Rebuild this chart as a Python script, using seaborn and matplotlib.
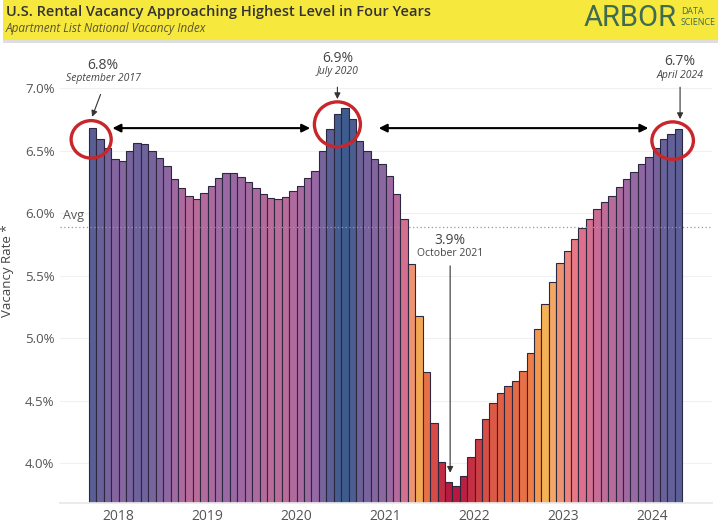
import numpy as np
import pandas as pd
import matplotlib
matplotlib.use("Agg")
import matplotlib.pyplot as plt
import seaborn as sns
from matplotlib.colors import LinearSegmentedColormap, Normalize
from matplotlib.patches import Ellipse, Rectangle

# monthly vacancy rate (%), September 2017 - April 2024
months = pd.date_range("2017-09-01", "2024-04-01", freq="MS").strftime("%Y-%m").tolist()
vacancy = [
    6.68, 6.59, 6.52, 6.43, 6.42, 6.50, 6.56, 6.55, 6.50, 6.44,
    6.38, 6.27, 6.20, 6.14, 6.11, 6.16, 6.22, 6.28, 6.32, 6.32,
    6.29, 6.25, 6.20, 6.15, 6.12, 6.11, 6.13, 6.18, 6.22, 6.28,
    6.34, 6.50, 6.67, 6.79, 6.84, 6.75, 6.58, 6.50, 6.43, 6.39,
    6.30, 6.15, 5.95, 5.59, 5.18, 4.73, 4.32, 4.01, 3.85, 3.82,
    3.90, 4.05, 4.19, 4.35, 4.48, 4.56, 4.62, 4.66, 4.74, 4.88,
    5.07, 5.27, 5.45, 5.60, 5.70, 5.79, 5.88, 5.95, 6.03, 6.09,
    6.14, 6.21, 6.27, 6.33, 6.39, 6.45, 6.52, 6.59, 6.63, 6.67,
]
avg_rate = 5.89
year_labels = ["2018", "2019", "2020", "2021", "2022", "2023", "2024"]

# Tableau-like "Sunset-Sunrise Diverging"
sunset = ["#b81840", "#d54c45", "#ed7846", "#f6ba57", "#e7718a", "#9768a5", "#3d5b8d"]

df = pd.DataFrame({"month": months, "rate": vacancy})
cmap = LinearSegmentedColormap.from_list("sunset", sunset)
norm = Normalize(min(vacancy), max(vacancy))
bar_colors = [cmap(norm(v)) for v in vacancy]

sns.set_theme(style="white")
plt.rcParams["font.family"] = ["Open Sans", "DejaVu Sans"]

fig = plt.figure(figsize=(7.22, 5.32), dpi=100)
ax = fig.add_axes([0.0831, 0.0545, 0.903, 0.855])

sns.barplot(data=df, x="month", y="rate", hue="month", palette=bar_colors,
            legend=False, width=1.0, edgecolor="#2b2840", linewidth=0.8,
            saturation=1, ax=ax)

ax.set_ylim(3.68, 7.32)
ax.set_xlim(-4.4, 83.5)
ax.set_yticks([4.0, 4.5, 5.0, 5.5, 6.0, 6.5, 7.0])
ax.set_yticklabels([f"{t:.1f}%" for t in ax.get_yticks()], fontsize=9.5, color="#555555")
jan_pos = [i - 0.5 for i, m in enumerate(months) if m.endswith("-01")]
ax.set_xticks(jan_pos)
ax.set_xticklabels(year_labels, fontsize=10, color="#555555")
ax.tick_params(axis="both", length=0, pad=4)
ax.set_xlabel("")
ax.set_ylabel("Vacancy Rate *", fontsize=9.5, color="#444444")
ax.yaxis.set_label_coords(-0.071, 0.51)
ax.grid(axis="y", color="#f0f0f0", linewidth=0.8)
ax.set_axisbelow(True)
for side in ["top", "right", "left"]:
    ax.spines[side].set_visible(False)
ax.spines["bottom"].set_color("#e8e8e8")

# average reference line
ax.axhline(avg_rate, color="#999999", linestyle=(0, (1, 2)), linewidth=0.9, zorder=3)
ax.text(-4.0, avg_rate + 0.04, "Avg", fontsize=9, color="#555555", va="bottom", ha="left")

# highlighted peaks and trough
i_sep17 = months.index("2017-09")
i_jul20 = months.index("2020-07")
i_oct21 = months.index("2021-10")
i_apr24 = months.index("2024-04")

for cx, cy, w, h in [(i_sep17 - 0.2, 6.59, 5.4, 0.30),
                     (i_jul20 - 1.0, 6.71, 6.2, 0.36),
                     (i_apr24 - 0.8, 6.58, 5.6, 0.30)]:
    ax.add_patch(Ellipse((cx, cy), w, h, fill=False, edgecolor="#c9262b",
                         linewidth=2.4, zorder=5))

arrow_kw = dict(arrowstyle="<|-|>", color="black", lw=1.5, mutation_scale=12)
ax.annotate("", xy=(2.3, 6.68), xytext=(29.7, 6.68), arrowprops=arrow_kw, zorder=6)
ax.annotate("", xy=(38.2, 6.68), xytext=(75.3, 6.68), arrowprops=arrow_kw, zorder=6)

thin_kw = dict(arrowstyle="-|>", color="#333333", lw=0.8, mutation_scale=9)
callouts = [
    ("6.8%", "September 2017", 1.4, 7.18, (1.2, 6.97), (i_sep17 - 0.2, 6.75)),
    ("6.9%", "July 2020", i_jul20 - 1.0, 7.24, (i_jul20 - 1.0, 7.03), (i_jul20 - 1.0, 6.89)),
    ("6.7%", "April 2024", i_apr24 + 0.2, 7.21, (i_apr24 + 0.2, 7.03), (i_apr24 + 0.2, 6.73)),
    ("3.9%", "October 2021", i_oct21 - 0.8, 5.78, (i_oct21 - 0.8, 5.60), (i_oct21 - 0.8, 3.90)),
]
for pct, when, tx, ty, a0, a1 in callouts:
    ax.text(tx, ty, pct, ha="center", va="center", fontsize=10, color="#444444")
    ax.text(tx, ty - 0.105, when, ha="center", va="center", fontsize=7.5,
            color="#444444", style="italic" if when != "October 2021" else "normal")
    ax.annotate("", xy=a1, xytext=a0, arrowprops=thin_kw, zorder=6)

# header band
fig.patches.append(Rectangle((0.004, 0.925), 0.99, 0.075, transform=fig.transFigure,
                             facecolor="#f7e83e", edgecolor="none", zorder=0))
fig.patches.append(Rectangle((0.004, 0.919), 0.99, 0.006, transform=fig.transFigure,
                             facecolor="#dedede", edgecolor="none", zorder=0))
fig.text(0.008, 0.977, "U.S. Rental Vacancy Approaching Highest Level in Four Years",
         fontsize=10.5, fontweight="semibold", color="#333333", va="center")
fig.text(0.008, 0.946, "Apartment List National Vacancy Index", fontsize=8.5,
         style="italic", color="#5a5530", va="center")
fig.text(0.808, 0.966, "ARBOR", fontsize=21, color="#3e6b52", va="center", ha="left",
         family=["Roboto", "DejaVu Sans"])
fig.text(0.943, 0.979, "DATA", fontsize=6.4, color="#3e6b52", va="center", ha="left")
fig.text(0.943, 0.957, "SCIENCE", fontsize=6.4, color="#3e6b52", va="center", ha="left")

fig.savefig("out.png", dpi=100)
